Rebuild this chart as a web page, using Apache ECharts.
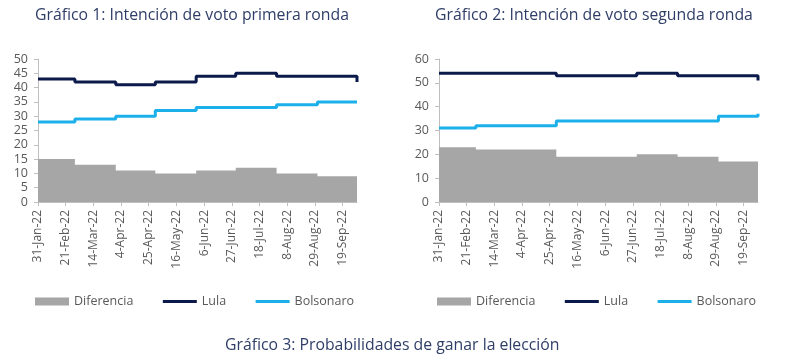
<!DOCTYPE html>
<html>
<head>
<meta charset="utf-8">
<script src="https://cdn.jsdelivr.net/npm/echarts@6/dist/echarts.min.js"></script>
<style>
html,body{margin:0;padding:0;background:#fff;}
#chart{width:800px;height:355px;}
</style>
</head>
<body>
<div id="chart"></div>
<script>
// Poll dates (monthly) and values
const pollDates = ['2022-01-31','2022-02-28','2022-03-31','2022-04-30','2022-05-31','2022-06-30','2022-07-31','2022-08-31','2022-09-30'];
const lula1 = [43, 42, 41, 42, 44, 45, 44, 44, 42];
const bolsonaro1 = [28, 29, 30, 32, 33, 33, 34, 35, 35];
const diferencia1 = [15, 13, 11, 10, 11, 12, 10, 9, 7];
const lula2 = [54, 54, 54, 53, 53, 54, 53, 53, 51];
const bolsonaro2 = [31, 32, 32, 34, 34, 34, 34, 36, 37];
const diferencia2 = [23, 22, 22, 19, 19, 20, 19, 17, 14];
const tickLabels = ['31-Jan-22','21-Feb-22','14-Mar-22','4-Apr-22','25-Apr-22','16-May-22','6-Jun-22','27-Jun-22','18-Jul-22','8-Aug-22','29-Aug-22','19-Sep-22'];
const titles = ['Gráfico 1: Intención de voto primera ronda','Gráfico 2: Intención de voto segunda ronda','Gráfico 3: Probabilidades de ganar la elección'];
const seriesNames = ['Diferencia','Lula','Bolsonaro'];

const DAY = 86400000;
const t0 = Date.UTC(2022, 0, 31);
function dayIdx(s){ const p = s.split('-').map(Number); return Math.round((Date.UTC(p[0], p[1]-1, p[2]) - t0) / DAY); }
const xs = pollDates.map(dayIdx);
const lastDay = xs[xs.length - 1];
const tickVals = tickLabels.map((_, i) => i * 21);
function pairs(vals){ return vals.map((v, i) => [xs[i], v]); }

const FONT = 'Open Sans';
const C_LULA = '#0b1a4a', C_BOLSO = '#1cb0ea', C_DIF = '#a6a6a6';
const AX = '#bfbfbf', TXT = '#595959', TITLE = '#2f3e67';

function xAxis(gi){
  return {
    type: 'value', gridIndex: gi, min: 0, max: lastDay,
    axisLine: {show: true, lineStyle: {color: AX}},
    axisTick: {show: true, length: 4, lineStyle: {color: AX}, customValues: tickVals},
    splitLine: {show: false},
    axisLabel: {
      customValues: tickVals, rotate: 90, margin: 8, color: TXT, fontFamily: FONT, fontSize: 12,
      formatter: v => { const i = Math.round(v / 21); return tickLabels[i] || ''; }
    }
  };
}
function yAxis(gi, max, interval){
  return {
    type: 'value', gridIndex: gi, min: 0, max: max, interval: interval,
    axisLine: {show: true, lineStyle: {color: AX}},
    axisTick: {show: true, length: 4, lineStyle: {color: AX}},
    splitLine: {show: false},
    axisLabel: {margin: 10, color: TXT, fontFamily: FONT, fontSize: 12.5}
  };
}
function areaSeries(gi, vals){
  return {name: seriesNames[0], type: 'line', step: 'end', xAxisIndex: gi, yAxisIndex: gi,
    data: pairs(vals), symbol: 'none', silent: true,
    itemStyle: {color: C_DIF}, lineStyle: {width: 0, color: C_DIF},
    areaStyle: {color: C_DIF, opacity: 1}, z: 1};
}
function lineSeries(gi, name, vals, color){
  return {name: name, type: 'line', step: 'end', xAxisIndex: gi, yAxisIndex: gi,
    data: pairs(vals), symbol: 'none', silent: true,
    itemStyle: {color: color}, lineStyle: {width: 3, color: color}, z: 3};
}
function legend(left){
  return {
    left: left, top: 295, padding: 0, itemWidth: 34, itemHeight: 8, itemGap: 28,
    textStyle: {color: TXT, fontFamily: FONT, fontSize: 12.5},
    selectedMode: false,
    data: [
      {name: seriesNames[0], icon: 'rect'},
      {name: seriesNames[1], itemStyle: {opacity: 0}, lineStyle: {width: 3}},
      {name: seriesNames[2], itemStyle: {opacity: 0}, lineStyle: {width: 3}}
    ]
  };
}
function title(text, left, top){
  return {text: text, left: left, top: top, padding: 0,
    textStyle: {color: TITLE, fontFamily: FONT, fontSize: 15.8, fontWeight: 'normal'}};
}

const chart = echarts.init(document.getElementById('chart'), null, {renderer: 'canvas'});
chart.setOption({
  animation: false,
  backgroundColor: '#fff',
  title: [title(titles[0], 35, 7), title(titles[1], 435, 7), title(titles[2], 225, 337)],
  legend: [legend(35), legend(437)],
  grid: [
    {left: 38, right: 443, top: 59, bottom: 153, containLabel: false},
    {left: 439, right: 42, top: 59, bottom: 153, containLabel: false}
  ],
  xAxis: [xAxis(0), xAxis(1)],
  yAxis: [yAxis(0, 50, 5), yAxis(1, 60, 10)],
  series: [
    areaSeries(0, diferencia1),
    lineSeries(0, seriesNames[1], lula1, C_LULA),
    lineSeries(0, seriesNames[2], bolsonaro1, C_BOLSO),
    areaSeries(1, diferencia2),
    lineSeries(1, seriesNames[1], lula2, C_LULA),
    lineSeries(1, seriesNames[2], bolsonaro2, C_BOLSO)
  ]
});
</script>
</body>
</html>
